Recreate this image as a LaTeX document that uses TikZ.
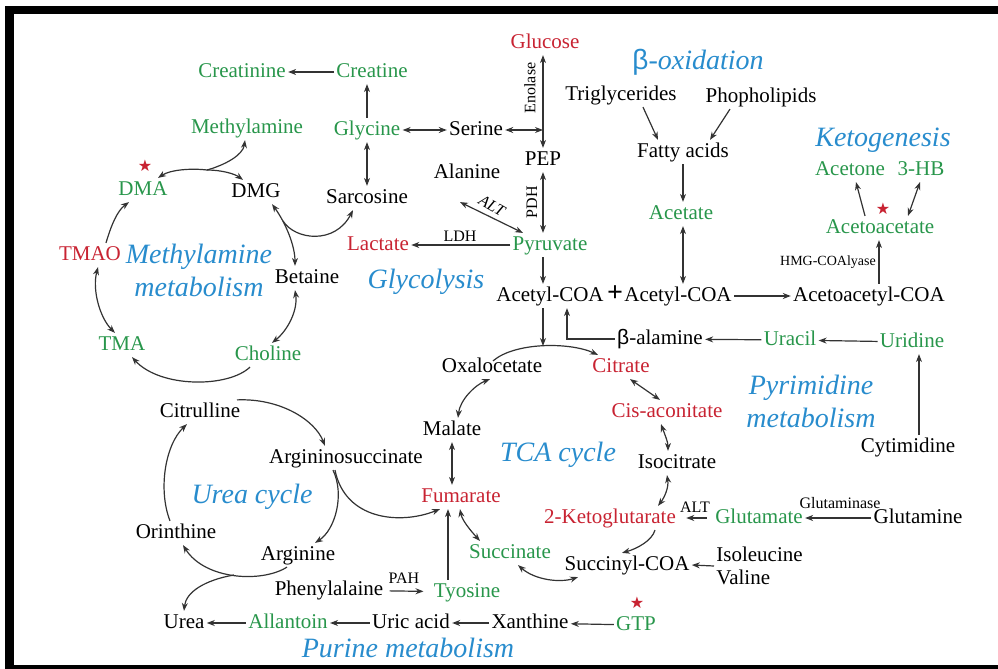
\documentclass[tikz,border=0pt]{standalone}
\usepackage{fontspec}
\setmainfont{Liberation Serif}
\newfontfamily\betafont{Liberation Sans}
\newfontfamily\starfont{DejaVu Sans}
\usetikzlibrary{arrows.meta}
\definecolor{metgreen}{RGB}{40,150,75}
\definecolor{metred}{RGB}{200,35,50}
\definecolor{metblue}{RGB}{40,140,205}
\begin{document}
\begin{tikzpicture} [x=0.5pt, y=-0.5pt, >={Stealth[length=4pt,width=3pt]},
    every node/.style={inner sep=1pt, font=\fontsize{10.5}{11.5}\selectfont, text height=7.5pt, text depth=2.2pt},
    grn/.style={text=metgreen}, rd/.style={text=metred},
    pathway/.style={text=metblue, font=\fontsize{14}{16.5}\selectfont\itshape, align=center, text height={}, text depth={}},
    enz/.style={font=\fontsize{8}{9}\selectfont, text height={}, text depth={}},
    redstar/.style={text=metred, inner sep=0pt, font=\starfont\fontsize{8}{9}\selectfont, text height={}, text depth={}},
    flow/.style={draw=black!80, line width=0.6pt}]
  \useasboundingbox (0,0) rectangle (998,669);
  \fill (5,6) rectangle (998,14);
  \fill (5,6) rectangle (14,669);
  \fill (5,665) rectangle (998,669);

  \node [grn] (creatinine) at (242,72) {Creatinine};
  \node [grn] (creatine) at (372,72) {Creatine};
  \node [rd] (glucose) at (545,43) {Glucose};
  \node [pathway] (betaox) at (698,62) {{\betafont\upshape β}-oxidation};
  \node [grn] (methylamine) at (247,128) {Methylamine};
  \node [grn] (glycine) at (367,130) {Glycine};
  \node (serine) at (476,130) {Serine};
  \node (pep) at (543,160) {PEP};
  \node (trigly) at (621,95) {Triglycerides};
  \node (phospho) at (761,97) {Phopholipids};
  \node (fatty) at (683,152) {Fatty acids};
  \node [pathway] (keto) at (883,140) {Ketogenesis};
  \node [grn] (acetone) at (850,170) {Acetone};
  \node [grn] (hb) at (921,170) {3-HB};
  \node [redstar] (star1) at (145,166) {★};
  \node [grn] (dma) at (143,190) {DMA};
  \node (dmg) at (256,192) {DMG};
  \node (sarcosine) at (367,198) {Sarcosine};
  \node (alanine) at (467,173) {Alanine};
  \node [grn] (acetate) at (681,214) {Acetate};
  \node [redstar] (star2) at (883,209) {★};
  \node [grn] (acac) at (880,228) {Acetoacetate};
  \node [rd] (lactate) at (378,245) {Lactate};
  \node [grn] (pyruvate) at (550,245) {Pyruvate};
  \node [rd] (tmao) at (90,255) {TMAO};
  \node [pathway] (methmet) at (199,270) {Methylamine\\metabolism};
  \node (betaine) at (307,278) {Betaine};
  \node [pathway] (glycolysis) at (426,282) {Glycolysis};
  \node (acetylL) at (550,296) {Acetyl-COA};
  \node [font=\fontsize{14}{14}\selectfont\bfseries] (plus) at (615,296) {+};
  \node (acetylR) at (678,296) {Acetyl-COA};
  \node (acacCoA) at (869,296) {Acetoacetyl-COA};
  \node [enz, font=\fontsize{7}{8}\selectfont] (hmg) at (828,262) {HMG-COAlyase};
  \node (balanine) at (660,339) {{\betafont β}-alamine};
  \node [grn] (uracil) at (790,340) {Uracil};
  \node [grn] (uridine) at (912,342) {Uridine};
  \node [grn] (tma) at (122,345) {TMA};
  \node [grn] (choline) at (268,355) {Choline};
  \node (oxal) at (492,367) {Oxalocetate};
  \node [rd] (citrate) at (621,367) {Citrate};
  \node [pathway] (pyrimidine) at (811,401) {Pyrimidine\\metabolism};
  \node [rd] (cisacon) at (667,412) {Cis-aconitate};
  \node (citrulline) at (200,412) {Citrulline};
  \node (malate) at (452,430) {Malate};
  \node (cytimidine) at (908,447) {Cytimidine};
  \node [pathway] (tca) at (558,455) {TCA cycle};
  \node (argsucc) at (346,458) {Argininosuccinate};
  \node (isocitrate) at (677,463) {Isocitrate};
  \node [pathway] (ureacycle) at (252,497) {Urea cycle};
  \node [rd] (fumarate) at (461,497) {Fumarate};
  \node [rd] (akg) at (610,518) {2-Ketoglutarate};
  \node [grn] (glutamate) at (759,518) {Glutamate};
  \node (glutamine) at (918,518) {Glutamine};
  \node (orinthine) at (176,533) {Orinthine};
  \node [grn] (succinate) at (510,553) {Succinate};
  \node (arginine) at (298,555) {Arginine};
  \node (succcoa) at (627,565) {Succinyl-COA};
  \node [anchor=west, align=left, text height={}, text depth={}] (ileval) at (714,566) {Isoleucine\\Valine};
  \node (phenyl) at (329,590) {Phenylalaine};
  \node [grn] (tyosine) at (467,592) {Tyosine};
  \node [redstar] (star3) at (637,603) {★};
  \node (urea) at (184,623) {Urea};
  \node [grn] (allantoin) at (288,623) {Allantoin};
  \node (uric) at (411,623) {Uric acid};
  \node (xanthine) at (530,623) {Xanthine};
  \node [grn] (gtp) at (636,625) {GTP};
  \node [pathway] (purine) at (408,648) {Purine metabolism};

  \node [enz, rotate=90] (enolase) at (530,88) {Enolase};
  \node [enz, rotate=90] (pdh) at (532,202) {PDH};
  \node [enz] (ldh) at (460,236) {LDH};
  \node [enz, font=\fontsize{8}{9}\selectfont\itshape, rotate=-30] (alt1) at (492,206) {ALT};
  \node [enz] (alt2) at (695,507) {ALT};
  \node [enz] (pah) at (404,578) {PAH};
  \node [enz] (glutaminase) at (840,503) {Glutaminase};

  \coordinate (enl) at (543,130);
  \coordinate (mj) at (207,170);
  \coordinate (mdmg) at (283,221);
  \coordinate (tcatop) at (543,346);
  \coordinate (uj) at (234,575);

  \draw [flow,->] (creatine) -- (creatinine);
  \draw [flow,->] (glycine.north) -- (glycine.north |- creatine.south);
  \draw [flow,<->] (glycine) -- (sarcosine);
  \draw [flow,<->] (glycine) -- (serine);
  \draw [flow,<->] (serine) -- (enl);
  \draw [flow,<->] (pep.north |- glucose.south) -- (pep.north);
  \draw [flow,<->] (pep.south) -- (pep.south |- pyruvate.north);
  \draw [flow,<->] ([shift={(-7,17)}]alanine.south) -- ([shift={(-27,0)}]pyruvate.north);
  \draw [flow,->] (pyruvate) -- (lactate);
  \draw [flow,->] (pep.south |- pyruvate.south) -- (pep.south |- acetylL.north);
  \draw [flow,->] (pep.south |- acetylL.south) -- (tcatop);
  \draw [flow,->] (balanine.west) -| ([shift={(17,0)}]acetylL.south);
  \draw [flow,->] (uracil) -- (balanine);
  \draw [flow,->] (uridine) -- (uracil);
  \draw [flow,->] ([shift={(7,0)}]uridine.south |- cytimidine.north) -- ([shift={(7,0)}]uridine.south);
  \draw [flow,->] (acetylR) -- (acacCoA);
  \draw [flow,->] ([shift={(10,0)}]acacCoA.north) -- ([shift={(10,0)}]acacCoA.north |- acac.south);
  \draw [flow,->] ([shift={(-15,0)}]acac.north) -- ([shift={(6,0)}]acetone.south);
  \draw [flow,<->] ([shift={(28,0)}]acac.north) -- ([shift={(-1,0)}]hb.south);
  \draw [flow,->] (fatty.south) -- (fatty.south |- acetate.north);
  \draw [flow,<->] ([shift={(2,0)}]acetate.south) -- ([shift={(2,0)}]acetate.south |- acetylR.north);
  \draw [flow,->] ([shift={(22,0)}]trigly.south) -- ([shift={(-25,0)}]fatty.north);
  \draw [flow,->] ([shift={(-31,0)}]phospho.south) -- ([shift={(27,0)}]fatty.north);

  \draw [flow,->] ([shift={(16,0)}]tmao.north) .. controls (111,226) and (117,211) .. ([shift={(-14,0)}]dma.south);
  \draw [flow,<->] ([shift={(8,0)}]tmao.south) .. controls (92,290) and (100,318) .. ([shift={(-7,0)}]tma.north);
  \draw [flow,->] ([shift={(-18,0)}]choline.south) .. controls (228,388) and (160,388) .. ([shift={(10,0)}]tma.south);
  \draw [flow,<->] ([shift={(-12,0)}]betaine.south) .. controls (298,310) and (288,330) .. ([shift={(4,0)}]choline.north);
  \draw [flow,<->] ([shift={(16,0)}]dmg.south) .. controls (285,222) and (295,245) .. ([shift={(-12,0)}]betaine.north);
  \draw [flow,->] (mdmg) .. controls (295,240) and (335,245) .. ([shift={(-14,0)}]sarcosine.south);
  \draw [flow,<-] ([shift={(15,0)}]dma.north) .. controls (170,170) and (190,168) .. (mj);
  \draw [flow,->] (mj) .. controls (225,165) and (243,155) .. ([shift={(-2,0)}]methylamine.south);
  \draw [flow,->] (mj) .. controls (222,170) and (235,174) .. ([shift={(-13,0)}]dmg.north);

  \draw [flow,->] ([shift={(37,0)}]citrulline.north) .. controls (280,398) and (315,420) .. ([shift={(-21,0)}]argsucc.north);
  \draw [flow,->] ([shift={(-13,0)}]argsucc.south) .. controls (345,495) and (335,530) .. ([shift={(17,0)}]arginine.north);
  \draw [flow,->] ([shift={(-11,0)}]arginine.south) .. controls (262,583) and (205,580) .. ([shift={(7,0)}]orinthine.south);
  \draw [flow,->] (uj) .. controls (205,580) and (186,592) .. (urea.north);
  \draw [flow,->] ([shift={(-6,0)}]orinthine.north) .. controls (158,490) and (165,445) .. ([shift={(-13,0)}]citrulline.south);
  \draw [flow,->] ([shift={(-11,0)}]argsucc.south) .. controls (345,520) and (400,525) .. ([shift={(-21,0)}]fumarate.south);

  \draw [flow,->] ([shift={(1,6)}]oxal.north) .. controls (515,342) and (570,342) .. ([shift={(-23,0)}]citrate.north);
  \draw [flow,<->] ([shift={(9,0)}]citrate.south) -- ([shift={(-7,0)}]cisacon.north);
  \draw [flow,<->] ([shift={(-6,0)}]cisacon.south) .. controls (665,435) and (668,442) .. ([shift={(-9,0)}]isocitrate.north);
  \draw [flow,<->] ([shift={(-10,0)}]isocitrate.south) .. controls (669,488) and (664,498) .. ([shift={(48,0)}]akg.north);
  \draw [flow,->] ([shift={(45,0)}]akg.south) .. controls (652,541) and (636,549) .. ([shift={(-5,0)}]succcoa.north);
  \draw [flow,->] (ileval.west) -- (succcoa.east);
  \draw [flow,<->] ([shift={(-49,0)}]succcoa.south) .. controls (560,583) and (535,580) .. ([shift={(8,0)}]succinate.south);
  \draw [flow,<->] ([shift={(-30,0)}]succinate.north) .. controls (470,530) and (462,520) .. ([shift={(-1,0)}]fumarate.south);
  \draw [flow,<->] (malate.south) -- (malate.south |- fumarate.north);
  \draw [flow,<->] ([shift={(6,0)}]malate.north) .. controls (460,400) and (475,385) .. ([shift={(-2,0)}]oxal.south);
  \draw [flow,->] ([shift={(-19,0)}]tyosine.north) -- ([shift={(-19,0)}]tyosine.north |- fumarate.south);
  \draw [flow,->,shorten <=2pt,shorten >=4pt] (phenyl) -- (tyosine);
  \draw [flow,->,shorten <=3pt,shorten >=4pt] (glutamate) -- (akg);
  \draw [flow,->] (glutamine) -- (glutamate);

  \draw [flow,->] (gtp) -- (xanthine);
  \draw [flow,->] (xanthine) -- (uric);
  \draw [flow,->] (uric) -- (allantoin);
  \draw [flow,->] (allantoin) -- (urea);
\end{tikzpicture}
\end{document}
